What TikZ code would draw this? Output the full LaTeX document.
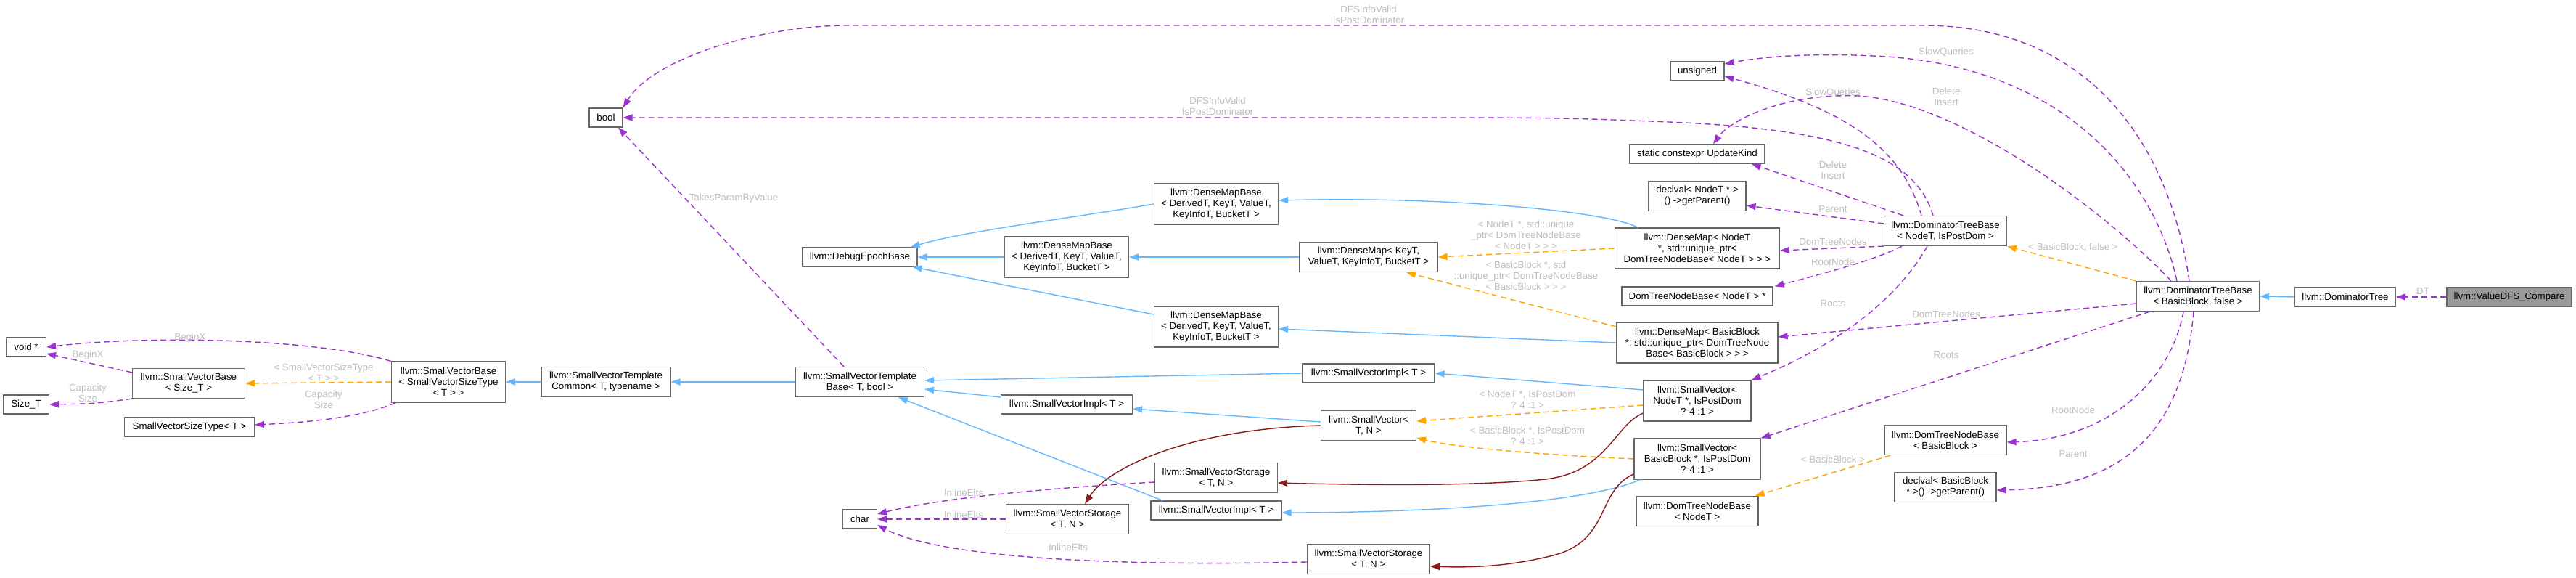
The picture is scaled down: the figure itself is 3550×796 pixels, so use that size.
\documentclass[tikz,border=0pt]{standalone}
\usepackage{fontspec}
\setmainfont{Liberation Sans}
\usetikzlibrary{arrows.meta}
\definecolor{eblue}{HTML}{63B8FF}
\definecolor{eorange}{HTML}{FFA500}
\definecolor{epurple}{HTML}{9A32CD}
\definecolor{ered}{HTML}{8B1A1A}
\definecolor{lgray}{HTML}{BEBEBE}
\definecolor{bgray}{HTML}{666666}
\definecolor{fgray}{HTML}{999999}
\begin{document}
\begin{tikzpicture}[x=0.5pt,y=-0.5pt,
 font=\fontsize{6.65pt}{7.5pt}\selectfont,
 box/.style={rectangle, draw=bgray, line width=0.6pt, fill=white, inner sep=0pt, align=center},
 hA/.style={box, minimum height=13pt},
 hB/.style={box, minimum height=20.5pt},
 hC/.style={box, minimum height=28pt},
 lab/.style={text=lgray, inner sep=0pt, align=center},
 conn/.style={line width=0.7pt, -{Triangle[length=6.5pt,width=4.6pt]}},
 cinh/.style={conn, draw=eblue},
 ctpl/.style={conn, draw=eorange, dash pattern=on 4pt off 2.5pt},
 cuse/.style={conn, draw=epurple, dash pattern=on 4pt off 2.5pt},
 cpriv/.style={conn, draw=ered},
]
\useasboundingbox (0,0) rectangle (3550,796);
\fill[white] (0,0) rectangle (3550,796);

% nodes
\node[hA, minimum width=23pt] (bool) at (835,162) {bool};
\node[hA, minimum width=37pt] (unsigned) at (2339,98) {unsigned};
\node[hA, minimum width=93pt] (updk) at (2339,212) {static constexpr UpdateKind};
\node[hB, minimum width=67pt] (declN) at (2339,270) {declval< NodeT * >\\() ->getParent()};
\node[hC, minimum width=113.5pt] (dmN) at (2339,342) {llvm::DenseMap< NodeT\\*, std::unique\_ptr<\\DomTreeNodeBase< NodeT > > >};
\node[hA, minimum width=104pt] (dtnbNp) at (2339,408) {DomTreeNodeBase< NodeT > *};
\node[hC, minimum width=111pt] (dmBB) at (2339,472) {llvm::DenseMap< BasicBlock\\*, std::unique\_ptr< DomTreeNode\\Base< BasicBlock > > >};
\node[hC, minimum width=74pt] (svN) at (2339,552) {llvm::SmallVector<\\NodeT *, IsPostDom\\? 4 :1 >};
\node[hC, minimum width=87pt] (svBB) at (2339,632) {llvm::SmallVector<\\BasicBlock *, IsPostDom\\? 4 :1 >};
\node[hB, minimum width=84pt] (dtnbN) at (2339,704) {llvm::DomTreeNodeBase\\< NodeT >};
\node[hB, minimum width=84.5pt] (dtbN) at (2681,318) {llvm::DominatorTreeBase\\< NodeT, IsPostDom >};
\node[hB, minimum width=84pt] (dtnbBB) at (2681,606) {llvm::DomTreeNodeBase\\< BasicBlock >};
\node[hB, minimum width=70pt] (declBB) at (2681,671) {declval< BasicBlock\\* >() ->getParent()};
\node[hB, minimum width=84.5pt] (dtbBB) at (3029,408) {llvm::DominatorTreeBase\\< BasicBlock, false >};
\node[hA, minimum width=69.5pt] (dt) at (3232,409) {llvm::DominatorTree};
\node[hA, minimum width=86pt, fill=fgray] (vdfs) at (3458,409) {llvm::ValueDFS\_Compare};
\node[hB, minimum width=95pt] (dmKV) at (1886,354) {llvm::DenseMap< KeyT,\\ValueT, KeyInfoT, BucketT >};
\node[hC, minimum width=85.5pt] (dmbT) at (1676,281) {llvm::DenseMapBase\\< DerivedT, KeyT, ValueT,\\KeyInfoT, BucketT >};
\node[hC, minimum width=85.5pt] (dmbM) at (1470,354) {llvm::DenseMapBase\\< DerivedT, KeyT, ValueT,\\KeyInfoT, BucketT >};
\node[hC, minimum width=85.5pt] (dmbB) at (1676,450) {llvm::DenseMapBase\\< DerivedT, KeyT, ValueT,\\KeyInfoT, BucketT >};
\node[hA, minimum width=79pt] (deb) at (1185,354) {llvm::DebugEpochBase};
\node[hB, minimum width=88.5pt] (svtb) at (1185,526) {llvm::SmallVectorTemplate\\Base< T, bool >};
\node[hB, minimum width=89pt] (svtc) at (835,526) {llvm::SmallVectorTemplate\\Common< T, typename >};
\node[hC, minimum width=78.5pt] (svbS) at (618,526) {llvm::SmallVectorBase\\< SmallVectorSizeType\\< T > >};
\node[hB, minimum width=77.5pt] (svbT) at (260,528) {llvm::SmallVectorBase\\< Size\_T >};
\node[hA, minimum width=27.5pt] (voidp) at (36,478) {void *};
\node[hA, minimum width=31.5pt] (sizet) at (36,557) {Size\_T};
\node[hA, minimum width=89.5pt] (svst) at (261,588) {SmallVectorSizeType< T >};
\node[hA, minimum width=91pt] (sviT) at (1886,514) {llvm::SmallVectorImpl< T >};
\node[hA, minimum width=90.5pt] (sviM) at (1470,557) {llvm::SmallVectorImpl< T >};
\node[hB, minimum width=65.5pt] (svTN) at (1886,586) {llvm::SmallVector<\\T, N >};
\node[hB, minimum width=84.5pt] (svsU) at (1676,658) {llvm::SmallVectorStorage\\< T, N >};
\node[hA, minimum width=90pt] (sviL) at (1676,703) {llvm::SmallVectorImpl< T >};
\node[hB, minimum width=84.5pt] (svsL) at (1471,715) {llvm::SmallVectorStorage\\< T, N >};
\node[hA, minimum width=23.5pt] (char) at (1185,715) {char};
\node[hB, minimum width=84.5pt] (svsB) at (1886,770) {llvm::SmallVectorStorage\\< T, N >};

% inheritance (blue)
\draw[cinh] (svtc.west) -- (svbS.east);
\draw[cinh] (svtb.west) -- (svtc.east);
\draw[cinh] (dmbT.west) .. controls (1480,300) and (1330,318) .. ([xshift=-5pt]deb.north east);
\draw[cinh] (dmbM.west) -- (deb.east);
\draw[cinh] ([yshift=8.5pt]dmbB.west) -- ([xshift=-3.5pt]deb.south east);
\draw[cinh] (dmKV.west) -- (dmbM.east);
\draw[cinh] ([xshift=-41pt]dmN.north) .. controls (2220,292) and (2000,270) .. ([yshift=2.5pt]dmbT.east);
\draw[cinh] (dmBB.west) -- ([yshift=-1.5pt]dmbB.east);
\draw[cinh] (sviT.west) -- ([yshift=1pt]svtb.east);
\draw[cinh] ([yshift=5pt]sviM.west) -- ([yshift=-5pt]svtb.east);
\draw[cinh] ([xshift=8.5pt]sviL.north west) -- ([xshift=26.5pt]svtb.south);
\draw[cinh] ([yshift=2.5pt]svTN.west) -- ([yshift=-3pt]sviM.east);
\draw[cinh] ([yshift=7.5pt]svN.west) -- (sviT.east);
\draw[cinh] ([xshift=4.5pt]svBB.south west) .. controls (2180,695) and (1950,706) .. ([yshift=-1.5pt]sviL.east);
\draw[cinh] (dt.west) -- (dtbBB.east);

% private inheritance (dark red)
\draw[cpriv] (svTN.west) .. controls (1650,590) and (1530,640) .. ([xshift=12pt]svsL.north);
\draw[cpriv] ([yshift=-8.5pt]svN.west) .. controls (2225,585) and (2215,650) .. (2130,660) .. controls (2030,670) and (1880,668) .. ([yshift=-3.5pt]svsU.east);
\draw[cpriv] ([yshift=-10.5pt]svBB.west) .. controls (2200,675) and (2220,745) .. (2140,765) .. controls (2080,780) and (2030,782) .. ([yshift=-5pt]svsB.east);

% template instances (orange)
\draw[ctpl] (svbS.west) -- (svbT.east);
\draw[ctpl] (dmN.west) -- (dmKV.east);
\draw[ctpl] ([yshift=11pt]dmBB.west) -- ([xshift=26pt]dmKV.south);
\draw[ctpl] ([yshift=-3pt]svN.west) -- ([yshift=3pt]svTN.east);
\draw[ctpl] (svBB.west) .. controls (2100,625) and (2000,615) .. ([yshift=-8.5pt]svTN.east);
\draw[ctpl] ([xshift=4.5pt]dtnbBB.south west) -- ([xshift=-2.5pt]dtnbN.north east);
\draw[ctpl] (dtbBB.north west) -- (dtbN.south east);

% usage (purple)
\draw[cuse] (svbS.north west) .. controls (430,465) and (200,462) .. (voidp.east);
\draw[cuse] ([yshift=-3pt]svbT.north west) -- ([yshift=-4.5pt]voidp.east);
\draw[cuse] (svbT.south west) .. controls (130,556) .. (sizet.east);
\draw[cuse] ([xshift=3pt]svbS.south west) .. controls (500,575) and (420,582) .. ([yshift=1.5pt]svst.east);
\draw[cuse] ([xshift=-11pt]svtb.north) -- ([xshift=8.5pt]bool.south);
\draw[cuse] ([xshift=-8.5pt]dtbN.north) .. controls (2640,215) and (2540,178) .. (2300,168) .. controls (2150,162) .. (1900,162) -- (bool.east);
\draw[cuse] ([xshift=-6pt]dtbBB.north) .. controls (2990,200) and (2880,35) .. (2650,35) -- (1169,35) .. controls (1050,35) and (900,80) .. (bool.north east);
\draw[cuse] ([xshift=-14.5pt]dtbBB.north) .. controls (2970,250) and (2850,95) .. (2600,78) .. controls (2500,72) and (2430,78) .. ([yshift=5pt]unsigned.east);
\draw[cuse] ([xshift=-18.5pt]dtbBB.north) .. controls (2900,290) and (2700,140) .. (2560,132) .. controls (2460,128) and (2385,165) .. ([xshift=11pt]updk.north);
\draw[cuse] ([xshift=-16.5pt]dtbN.north) .. controls (2620,200) and (2540,150) .. ([yshift=-3.5pt]unsigned.east);
\draw[cuse] ([xshift=-29pt]dtbN.north) -- ([xshift=-9.5pt]updk.south east);
\draw[cuse] ([yshift=5pt]dtbN.west) -- ([yshift=-6.5pt]declN.east);
\draw[cuse] (dtbN.south west) -- ([yshift=-1.5pt]dmN.east);
\draw[cuse] ([xshift=-30pt]dtbN.south) .. controls (2580,360) and (2500,380) .. ([xshift=1pt]dtnbNp.north east);
\draw[cuse] ([xshift=-12.5pt]dtbN.south) .. controls (2610,420) and (2520,480) .. (svN.north east);
\draw[cuse] ([yshift=-5pt]dtbBB.west) -- ([yshift=4pt]dmBB.east);
\draw[cuse] ([xshift=9.5pt]dtbBB.south west) -- (svBB.north east);
\draw[cuse] ([xshift=-10pt]dtbBB.south) .. controls (2990,530) and (2900,605) .. ([yshift=-1.5pt]dtnbBB.east);
\draw[cuse] ([xshift=-3pt]dtbBB.south) .. controls (3010,580) and (2940,672) .. ([yshift=-2pt]declBB.east);
\draw[cuse] (vdfs.west) -- (dt.east);
\draw[cuse] ([yshift=-3pt]svsU.west) .. controls (1450,672) and (1300,685) .. ([yshift=3.5pt]char.east);
\draw[cuse] (svsL.west) -- (char.east);
\draw[cuse] ([yshift=-2pt]svsB.west) .. controls (1550,780) and (1300,770) .. ([yshift=-4pt]char.east);

% labels
\node[lab] (l1) at (262,465) {BeginX};
\node[lab] (l2) at (121,489) {BeginX};
\node[lab] (l3) at (121,541) {Capacity\\Size};
\node[lab] (l4) at (446,513) {< SmallVectorSizeType\\< T > >};
\node[lab] (l5) at (446,550) {Capacity\\Size};
\node[lab] (l6) at (1011,273) {TakesParamByValue};
\node[lab] (l7) at (1678,146) {DFSInfoValid\\IsPostDominator};
\node[lab] (l8) at (1886,20) {DFSInfoValid\\IsPostDominator};
\node[lab] (l9) at (2682,72) {SlowQueries};
\node[lab] (l10) at (2526,128) {SlowQueries};
\node[lab] (l11) at (2682,133) {Delete\\Insert};
\node[lab] (l12) at (2526,234) {Delete\\Insert};
\node[lab] (l13) at (2526,288) {Parent};
\node[lab] (l14) at (2526,333) {DomTreeNodes};
\node[lab] (l15) at (2526,361) {RootNode};
\node[lab] (l16) at (2526,418) {Roots};
\node[lab] (l17) at (2682,433) {DomTreeNodes};
\node[lab] (l18) at (2682,489) {Roots};
\node[lab] (l19) at (2103,324) {< NodeT *, std::unique\\\_ptr< DomTreeNodeBase\\< NodeT > > >};
\node[lab] (l20) at (2103,380) {< BasicBlock *, std\\::unique\_ptr< DomTreeNodeBase\\< BasicBlock > > >};
\node[lab] (l21) at (2105,550) {< NodeT *, IsPostDom\\? 4 :1 >};
\node[lab] (l22) at (2105,600) {< BasicBlock *, IsPostDom\\? 4 :1 >};
\node[lab] (l23) at (2526,633) {< BasicBlock >};
\node[lab] (l24) at (2857,341) {< BasicBlock, false >};
\node[lab] (l25) at (2857,565) {RootNode};
\node[lab] (l26) at (2857,625) {Parent};
\node[lab] (l27) at (3339,401) {DT};
\node[lab] (l28) at (1328,679) {InlineElts};
\node[lab] (l29) at (1328,709) {InlineElts};
\node[lab] (l30) at (1472,754) {InlineElts};
\end{tikzpicture}
\end{document}
